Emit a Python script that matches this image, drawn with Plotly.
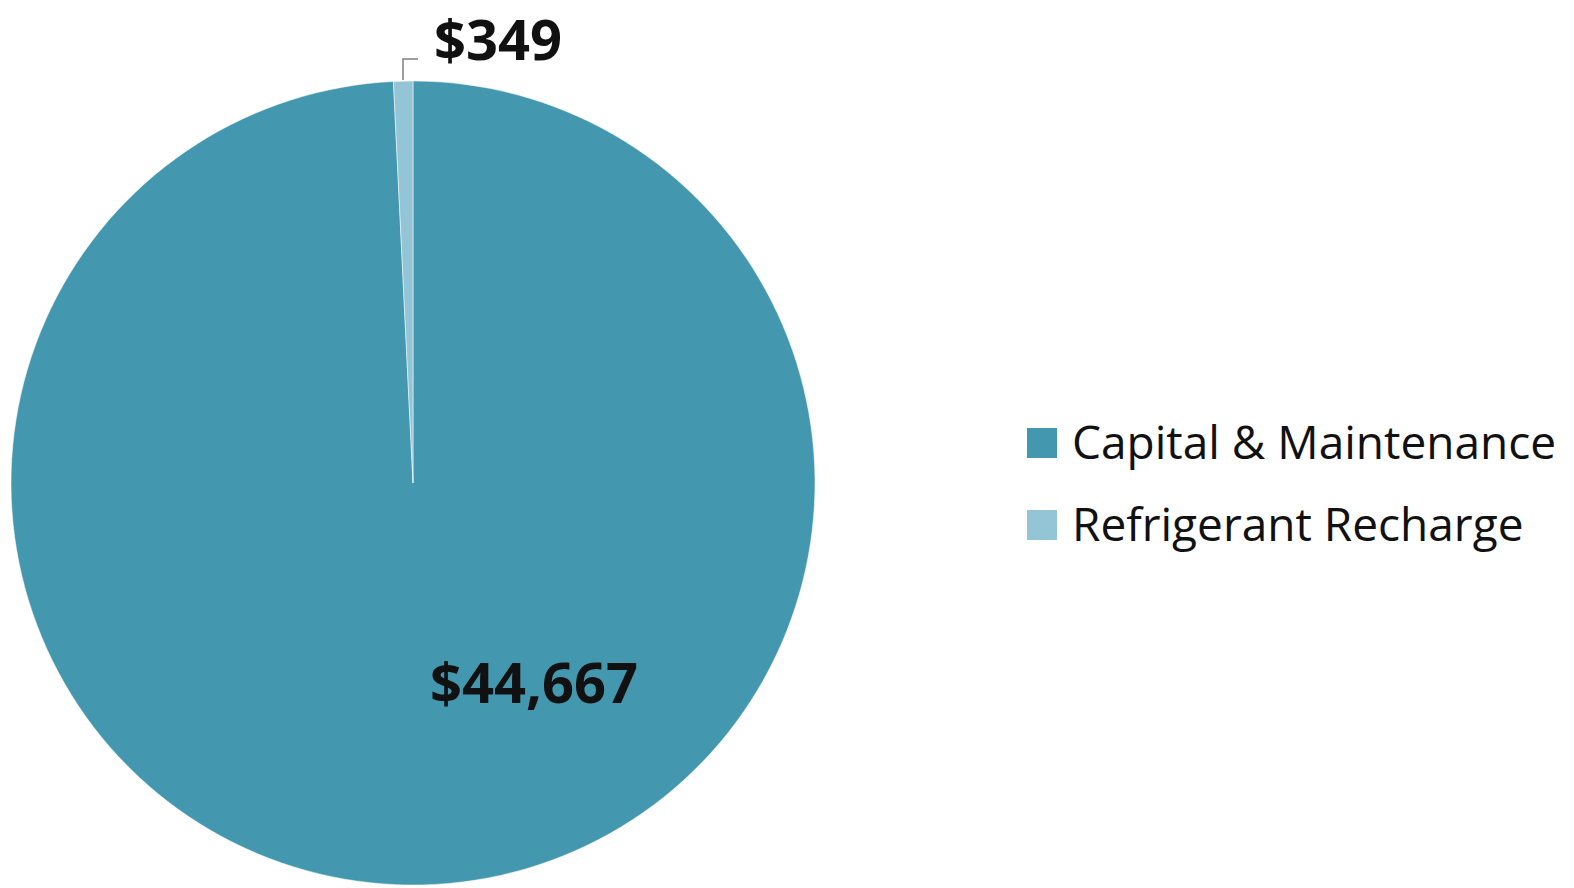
import plotly.graph_objects as go

categories = ["Capital & Maintenance", "Refrigerant Recharge"]
values = [44667, 349]
value_labels = ["$44,667", "$349"]
colors = ["#4398AF", "#93C5D7"]

W, H = 1574, 888

fig = go.Figure(go.Pie(
    labels=categories,
    values=values,
    sort=False,
    direction="clockwise",
    rotation=0,
    textinfo="none",
    hoverinfo="label+value",
    showlegend=False,
    marker=dict(colors=colors, line=dict(color="rgba(255,255,255,0.5)", width=1)),
    domain=dict(x=[11 / W, 815 / W], y=[3 / H, 807 / H]),
))


def px(x, y):
    return x / W, 1 - y / H


# data labels
label_pos = [(534, 681), (498, 38)]
for lab, (x0, y0) in zip(value_labels, label_pos):
    ax_, ay_ = px(x0, y0)
    fig.add_annotation(x=ax_, y=ay_, xref="paper", yref="paper", text="<b>" + lab + "</b>",
                       xanchor="center", yanchor="middle", showarrow=False,
                       font=dict(family="Open Sans", size=56, color="#111111"))

# leader line for the small slice
p = [px(403, 80), px(403, 59), px(418, 59)]
fig.add_shape(type="path", xref="paper", yref="paper",
              path="M {} {} L {} {} L {} {}".format(p[0][0], p[0][1], p[1][0], p[1][1], p[2][0], p[2][1]),
              line=dict(color="#7f7f7f", width=1.5))

# legend (large square swatches)
legend_rows = [443, 525]
for cat, col, yc in zip(categories, colors, legend_rows):
    x0, y0 = px(1027, yc - 15)
    x1, y1 = px(1057, yc + 15)
    fig.add_shape(type="rect", xref="paper", yref="paper", x0=x0, x1=x1, y0=y1, y1=y0,
                  fillcolor=col, line=dict(width=0))
    tx, ty = px(1070, yc - 2)
    fig.add_annotation(x=tx, y=ty, xref="paper", yref="paper", text=cat,
                       xanchor="left", yanchor="middle", showarrow=False,
                       font=dict(family="Open Sans", size=46, color="#111111"))

fig.update_layout(
    width=W, height=H,
    margin=dict(l=0, r=0, t=0, b=0),
    paper_bgcolor="white",
    plot_bgcolor="white",
    showlegend=False,
)

fig.write_html("out.html", config={"displayModeBar": False},
               post_script="document.body.style.margin='0';")
